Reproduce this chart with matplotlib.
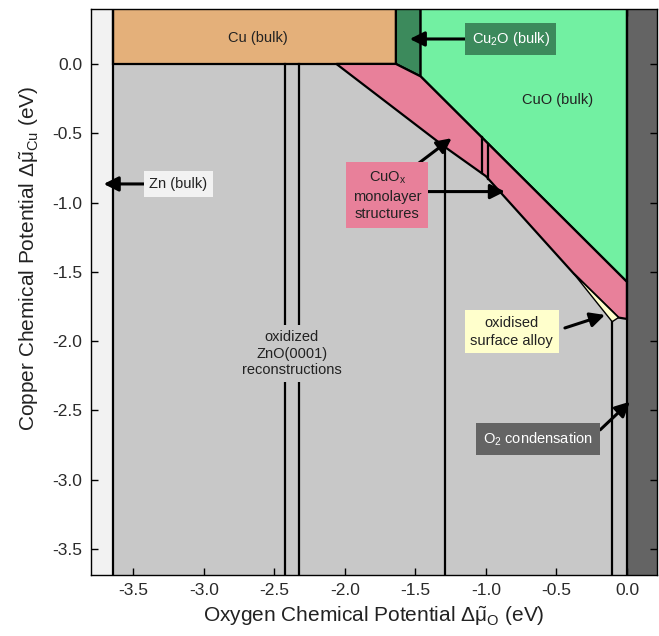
import numpy as np
import matplotlib
matplotlib.use('Agg')
import matplotlib.pyplot as plt
from matplotlib.patches import Polygon

plt.rcParams['font.family'] = ['Liberation Sans', 'DejaVu Sans']
plt.rcParams['mathtext.fontset'] = 'custom'
plt.rcParams['mathtext.rm'] = 'Liberation Sans'
plt.rcParams['mathtext.it'] = 'Liberation Sans:italic'
plt.rcParams['mathtext.bf'] = 'Liberation Sans:bold'
plt.rcParams['axes.unicode_minus'] = False

# ---- phase boundaries (eV) ----
X_LIM = (-3.80, 0.213)
Y_LIM = (-3.687, 0.397)

x_zn = -3.645                      # Zn(bulk) limit
x_cu2o = [-1.638, -1.463]          # Cu2O(bulk) stripe
y_cu2o_step = -0.09
cuo_edge_x = [-1.463, 0.0]         # CuO / monolayer boundary
cuo_edge_y = [-0.09, -1.573]
pink_low_x = [-2.06, -1.29, -1.0, -0.38, -0.06, 0.0]   # monolayer / ZnO boundary
pink_low_y = [0.0, -0.60, -0.81, -1.51, -1.83, -1.84]
alloy_x = [-0.38, -0.06, -0.105]   # surface alloy sliver
alloy_y = [-1.51, -1.83, -1.86]
zno_lines_x = [-2.426, -2.324]     # ZnO(0001) reconstruction borders
lower_lines_x = [-1.29, -0.105]
mono_lines_x = [-1.031, -0.984]

c_gray = '#c8c8c8'
c_zn = '#f2f2f2'
c_cu = '#e4b07a'
c_cu2o = '#3c8a5c'
c_cuo = '#72f0a2'
c_mono = '#e8809a'
c_alloy = '#ffffcc'
c_o2 = '#646464'
c_txt = '#222222'

fig = plt.figure(figsize=(6.59, 6.36), dpi=100)
ax = fig.add_axes([0.138, 0.096, 0.859, 0.890])
ax.set_facecolor(c_gray)
ax.set_xlim(*X_LIM)
ax.set_ylim(*Y_LIM)

top = 1.0
bot = -4.0
lw = 1.6

ax.axvspan(X_LIM[0], x_zn, color=c_zn, lw=0, zorder=1)
ax.axvspan(0.0, X_LIM[1], color=c_o2, lw=0, zorder=1)

# Cu bulk
ax.add_patch(Polygon([(x_zn, 0), (x_cu2o[0], 0), (x_cu2o[0], top), (x_zn, top)],
                     closed=True, fc=c_cu, ec='black', lw=lw, zorder=2))
# Cu2O bulk
ax.add_patch(Polygon([(x_cu2o[0], 0), (x_cu2o[1], y_cu2o_step),
                      (x_cu2o[1], top), (x_cu2o[0], top)],
                     closed=True, fc=c_cu2o, ec='black', lw=lw, zorder=2))
# CuO bulk
ax.add_patch(Polygon([(cuo_edge_x[0], cuo_edge_y[0]), (cuo_edge_x[1], cuo_edge_y[1]),
                      (0.0, top), (cuo_edge_x[0], top)],
                     closed=True, fc=c_cuo, ec='black', lw=lw, zorder=2))
# CuOx monolayer structures
mono = [(pink_low_x[0], 0), (x_cu2o[0], 0), (x_cu2o[1], y_cu2o_step),
        (cuo_edge_x[1], cuo_edge_y[1])]
mono += list(zip(pink_low_x[::-1], pink_low_y[::-1]))
ax.add_patch(Polygon(mono, closed=True, fc=c_mono, ec='black', lw=lw, zorder=2))
# oxidised surface alloy
ax.add_patch(Polygon(list(zip(alloy_x, alloy_y)), closed=True,
                     fc=c_alloy, ec='black', lw=1.0, zorder=2))

# region borders
ax.plot([x_zn, x_zn], [bot, top], color='black', lw=lw, zorder=3)
ax.plot([0, 0], [bot, top], color='black', lw=lw, zorder=3)
for xv in zno_lines_x:
    ax.plot([xv, xv], [bot, 0], color='black', lw=lw, zorder=3)
for xv in lower_lines_x:
    y_top = np.interp(xv, pink_low_x, pink_low_y)
    if xv > alloy_x[0]:
        y_top = alloy_y[-1]
    ax.plot([xv, xv], [bot, y_top], color='black', lw=lw, zorder=3)
for xv in mono_lines_x:
    y_hi = np.interp(xv, cuo_edge_x, cuo_edge_y)
    y_lo = np.interp(xv, pink_low_x, pink_low_y)
    ax.plot([xv, xv], [y_lo, y_hi], color='black', lw=lw, zorder=3)

# labels and pointers
fs = 10.5
arrow = dict(arrowstyle='-|>', color='black', lw=2.2, mutation_scale=22,
             shrinkA=0, shrinkB=0)


def pointer(tail, tip):
    ax.annotate('', xy=tip, xytext=tail, arrowprops=arrow, zorder=5)


def label(x, y, s, fc=None, color=c_txt, pad=0.4, ls=1.3):
    box = None if fc is None else dict(boxstyle='square,pad=%g' % pad, fc=fc, ec='none')
    ax.text(x, y, s, fontsize=fs, color=color, ha='center', va='center',
            linespacing=ls, zorder=6, bbox=box)


label(-2.62, 0.19, 'Cu (bulk)')
label(-0.49, -0.26, 'CuO (bulk)')

label(-0.823, 0.18, 'Cu$_2$O (bulk)', fc=c_cu2o, color='white', pad=0.45)
pointer((-1.10, 0.18), (-1.54, 0.18))

label(-3.18, -0.866, 'Zn (bulk)', fc=c_zn)
pointer((-3.40, -0.866), (-3.71, -0.866))

label(-2.376, -2.09, 'oxidized\nZnO(0001)\nreconstructions', fc=c_gray,
      pad=0.3, ls=1.25)

label(-1.70, -0.95, 'CuO$_\\mathrm{x}$\nmonolayer\nstructures', fc=c_mono, pad=0.45)
pointer((-1.52, -0.75), (-1.243, -0.536))
pointer((-1.45, -0.921), (-0.865, -0.921))

label(-0.816, -1.934, 'oxidised\nsurface alloy', fc=c_alloy)
pointer((-0.44, -1.905), (-0.156, -1.811))

label(-0.631, -2.706, 'O$_2$ condensation', fc=c_o2, color='white', pad=0.5)
pointer((-0.19, -2.64), (0.021, -2.437))

# axes
xt = np.arange(-3.5, 0.01, 0.5)
yt = np.arange(-3.5, 0.01, 0.5)
ax.set_xticks(xt)
ax.set_yticks(yt)
ax.set_xticklabels(['%.1f' % v for v in xt])
ax.set_yticklabels(['%.1f' % v for v in yt])
ax.tick_params(direction='in', top=True, right=True, length=5, width=1,
               labelsize=12.5, labelcolor='#2a2a2a', pad=6)
for s in ax.spines.values():
    s.set_linewidth(1.0)
    s.set_zorder(8)

ax.set_xlabel('Oxygen Chemical Potential $\\Delta\\tilde{\\mathrm{\\mu}}_\\mathrm{O}$ (eV)',
              fontsize=15, color=c_txt, labelpad=4)
ax.set_ylabel('Copper Chemical Potential $\\Delta\\tilde{\\mathrm{\\mu}}_\\mathrm{Cu}$ (eV)',
              fontsize=15, color=c_txt)
ax.yaxis.set_label_coords(-0.088, 0.56)

fig.savefig('out.png', dpi=100)
